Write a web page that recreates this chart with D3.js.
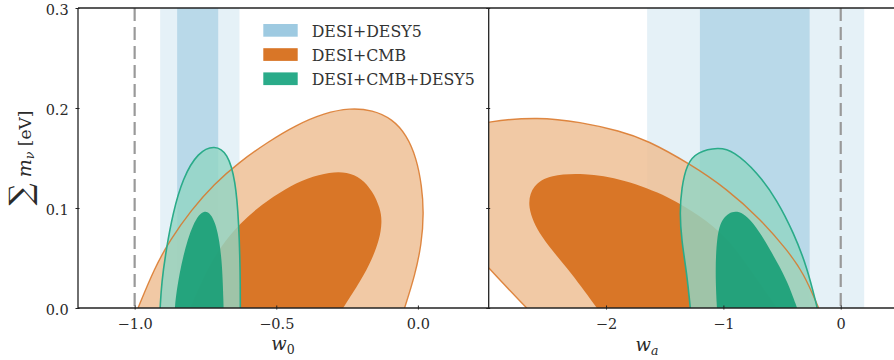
<!DOCTYPE html>
<html>
<head>
<meta charset="utf-8">
<script src="https://cdn.jsdelivr.net/npm/d3@7"></script>
<style>
  body { margin: 0; background: #fff; }
  text { font-family: "DejaVu Serif", serif; fill: #2a2a2a; }
</style>
</head>
<body>
<div id="chart"></div>
<script>
// ---- data ----
var mTicks = [0.0, 0.1, 0.2, 0.3];
var w0Ticks = [-1.0, -0.5, 0.0];
var waTicks = [-2, -1, 0];
var legendLabels = ["DESI+DESY5", "DESI+CMB", "DESI+CMB+DESY5"];

// DESI+DESY5 bands (68% inner, 95% outer)
var desy5W0Outer = [-0.91, -0.63];
var desy5W0Inner = [-0.85, -0.705];
var desy5WaOuter = [-1.65, 0.2];
var desy5WaInner = [-1.2, -0.265];

// contours as [w, sum m_nu] points, closed along m = 0
var cmbW0Outer = [[-0.988, 0], [-0.93, 0.04], [-0.875, 0.068], [-0.8, 0.098], [-0.72, 0.124],
  [-0.63, 0.146], [-0.53, 0.166], [-0.43, 0.183], [-0.33, 0.195], [-0.24, 0.2], [-0.16, 0.198],
  [-0.09, 0.189], [-0.04, 0.173], [-0.005, 0.15], [0.014, 0.122], [0.021, 0.095], [0.013, 0.064],
  [-0.01, 0.033], [-0.047, 0]];
var cmbW0Inner = [[-0.804, 0], [-0.75, 0.035], [-0.698, 0.061], [-0.627, 0.085], [-0.55, 0.104],
  [-0.47, 0.119], [-0.39, 0.13], [-0.31, 0.136], [-0.25, 0.136], [-0.2, 0.13], [-0.16, 0.117],
  [-0.133, 0.1], [-0.126, 0.086], [-0.136, 0.068], [-0.163, 0.048], [-0.2, 0.028], [-0.264, 0]];
var allW0Outer = [[-0.91, 0], [-0.905, 0.025], [-0.889, 0.058], [-0.865, 0.095], [-0.83, 0.13],
  [-0.776, 0.156], [-0.717, 0.163], [-0.672, 0.155], [-0.644, 0.128], [-0.632, 0.085],
  [-0.627, 0.035], [-0.627, 0]];
var allW0Inner = [[-0.858, 0], [-0.852, 0.018], [-0.83, 0.052], [-0.795, 0.085], [-0.752, 0.101],
  [-0.713, 0.088], [-0.691, 0.051], [-0.686, 0]];

var cmbWaOuter = [[-2.676, 0], [-2.989, 0.038], [-3.3, 0.08], [-3.45, 0.13], [-3.3, 0.178],
  [-3.0, 0.187], [-2.577, 0.191], [-2.22, 0.186], [-1.88, 0.177], [-1.652, 0.168], [-1.282, 0.144],
  [-0.969, 0.119], [-0.685, 0.089], [-0.457, 0.058], [-0.316, 0.035], [-0.188, 0]];
var cmbWaInner = [[-2.078, 0], [-2.334, 0.041], [-2.562, 0.071], [-2.68, 0.102], [-2.625, 0.123],
  [-2.477, 0.133], [-2.193, 0.135], [-1.852, 0.129], [-1.453, 0.111], [-1.2, 0.092],
  [-0.969, 0.071], [-0.756, 0.036], [-0.543, 0]];
var allWaOuter = [[-1.282, 0], [-1.312, 0.035], [-1.357, 0.068], [-1.372, 0.095], [-1.357, 0.12],
  [-1.312, 0.144], [-1.225, 0.156], [-1.041, 0.161], [-0.913, 0.157], [-0.713, 0.136],
  [-0.543, 0.108], [-0.401, 0.075], [-0.287, 0.041], [-0.2, 0]];
var allWaInner = [[-1.055, 0], [-1.07, 0.035], [-1.057, 0.072], [-1.012, 0.091], [-0.884, 0.1],
  [-0.742, 0.086], [-0.6, 0.058], [-0.457, 0.028], [-0.372, 0]];

// ---- colours ----
var blue = "#9ecae1", orange = "#d97627", orangeLight = "#efbf95",
    green = "#2aab89", greenLight = "#93d6c5", greenDark = "#169f76";

// ---- layout ----
var margin = { top: 8, left: 78 },
    panelW = 410.7,
    height = 300;

var svg = d3.select("#chart")
    .append("svg")
    .attr("width", 894)
    .attr("height", 360);

var y = d3.scaleLinear().domain([0, 0.3]).range([margin.top + height, margin.top]);

function drawPanel(id, x0, domain, bandOuter, bandInner, refLine, cmbOuter, cmbInner, allOuter, allInner) {
    var x = d3.scaleLinear().domain(domain).range([x0, x0 + panelW]);

    svg.append("clipPath").attr("id", id)
        .append("rect")
        .attr("x", x0).attr("y", margin.top)
        .attr("width", panelW).attr("height", height);

    var g = svg.append("g").attr("clip-path", "url(#" + id + ")");

    // DESI+DESY5 bands
    g.append("rect")
        .attr("x", x(bandOuter[0])).attr("y", margin.top)
        .attr("width", x(bandOuter[1]) - x(bandOuter[0])).attr("height", height)
        .style("fill", blue).style("opacity", 0.27);
    g.append("rect")
        .attr("x", x(bandInner[0])).attr("y", margin.top)
        .attr("width", x(bandInner[1]) - x(bandInner[0])).attr("height", height)
        .style("fill", blue).style("opacity", 0.62);

    // reference value
    g.append("line")
        .attr("x1", x(refLine)).attr("x2", x(refLine))
        .attr("y1", margin.top).attr("y2", margin.top + height)
        .style("stroke", "#999").style("stroke-width", 2.2)
        .style("stroke-dasharray", "13,6");

    var line = d3.line()
        .x(d => x(d[0]))
        .y(d => y(d[1]))
        .curve(d3.curveBasis);
    var area = pts => line(pts) + "Z";

    // DESI+CMB
    g.append("path").attr("d", area(cmbOuter))
        .style("fill", orangeLight).style("opacity", 0.85);
    g.append("path").attr("d", area(cmbInner))
        .style("fill", orange);

    // DESI+CMB+DESY5
    g.append("path").attr("d", area(allOuter))
        .style("fill", greenLight).style("opacity", 0.82);
    g.append("path").attr("d", area(allInner))
        .style("fill", greenDark).style("opacity", 0.9);

    // contour outlines
    g.append("path").attr("d", line(cmbOuter))
        .style("fill", "none").style("stroke", orange)
        .style("stroke-width", 1.4).style("opacity", 0.85);
    g.append("path").attr("d", line(allOuter))
        .style("fill", "none").style("stroke", green).style("stroke-width", 1.6);

    return x;
}

var xL = drawPanel("clipL", margin.left, [-1.2, 0.25], desy5W0Outer, desy5W0Inner, -1,
    cmbW0Outer, cmbW0Inner, allW0Outer, allW0Inner);
var xR = drawPanel("clipR", margin.left + panelW, [-3, 0.5], desy5WaOuter, desy5WaInner, 0,
    cmbWaOuter, cmbWaInner, allWaOuter, allWaInner);

// ---- axes ----
function styleAxis(sel) {
    sel.select(".domain").remove();
    sel.selectAll(".tick line").style("stroke", "#222").style("stroke-width", 1);
    sel.selectAll(".tick text").style("font-size", "14.5px").style("fill", "#2a2a2a");
}

svg.append("g")
    .attr("transform", "translate(0," + (margin.top + height) + ")")
    .call(d3.axisBottom(xL).tickValues(w0Ticks).tickFormat(d3.format(".1f")).tickSize(3).tickPadding(8))
    .call(styleAxis)
    .call(g => g.selectAll(".tick line").attr("y1", -2.5).attr("y2", 1.5));

svg.append("g")
    .attr("transform", "translate(0," + (margin.top + height) + ")")
    .call(d3.axisBottom(xR).tickValues(waTicks).tickFormat(d3.format("d")).tickSize(3).tickPadding(8))
    .call(styleAxis)
    .call(g => g.selectAll(".tick line").attr("y1", -2.5).attr("y2", 1.5));

svg.append("g")
    .attr("transform", "translate(" + margin.left + ",0)")
    .call(d3.axisLeft(y).tickValues(mTicks).tickFormat(d3.format(".1f")).tickSize(3).tickPadding(6.3))
    .call(styleAxis)
    .call(g => g.selectAll(".tick line").attr("x1", -2.5).attr("x2", 1.5))
    .call(g => g.selectAll(".tick text").attr("dy", "0.45em"));

svg.append("g")
    .attr("transform", "translate(" + (margin.left + panelW) + ",0)")
    .call(d3.axisLeft(y).tickValues(mTicks).tickFormat("").tickSize(3))
    .call(styleAxis)
    .call(g => g.selectAll(".tick line").attr("x1", -2.5).attr("x2", 1.5));

// spines
var x1 = margin.left, x2 = margin.left + panelW, x3 = 900;
var yTop = margin.top, yBot = margin.top + height;
[[x1, yTop, x3, yTop], [x1, yBot, x3, yBot], [x1, yTop, x1, yBot], [x2, yTop, x2, yBot]]
    .forEach(s => {
        svg.append("line")
            .attr("x1", s[0]).attr("y1", s[1]).attr("x2", s[2]).attr("y2", s[3])
            .style("stroke", "#222").style("stroke-width", 1.3);
    });

// ---- axis labels ----
var xlab = svg.append("text").attr("x", 283).attr("y", 350).attr("text-anchor", "middle");
xlab.append("tspan").text("w").style("font-style", "italic").style("font-size", "18px");
xlab.append("tspan").text("0").attr("dy", 4).style("font-size", "12.5px");

var xlab2 = svg.append("text").attr("x", 647).attr("y", 351).attr("text-anchor", "middle");
xlab2.append("tspan").text("w").style("font-style", "italic").style("font-size", "18px");
xlab2.append("tspan").text("a").attr("dy", 3.5).style("font-style", "italic").style("font-size", "12.5px");

var ylab = svg.append("text")
    .attr("transform", "translate(31," + y(0.15) + ") rotate(-90)")
    .attr("text-anchor", "middle");
ylab.append("tspan").text("\u2211").style("font-size", "31px");
ylab.append("tspan").text(" m").style("font-style", "italic").style("font-size", "19px");
ylab.append("tspan").text("\u03bd").attr("dy", 3).style("font-style", "italic").style("font-size", "12.5px");
ylab.append("tspan").text(" [eV]").attr("dy", -3).style("font-size", "17px");

// ---- legend ----
var legendColors = [blue, orange, green];
var legend = svg.selectAll("legendItem")
    .data(legendLabels)
    .enter()
    .append("g")
    .attr("transform", (d, i) => "translate(263.3," + (24 + i * 24.2) + ")");
legend.append("rect")
    .attr("width", 34.4).attr("height", 12.7)
    .style("fill", (d, i) => legendColors[i]);
legend.append("text")
    .attr("x", 48.4).attr("y", 12.5)
    .text(d => d)
    .style("font-size", "15.8px")
    .style("fill", "#333");
</script>
</body>
</html>
